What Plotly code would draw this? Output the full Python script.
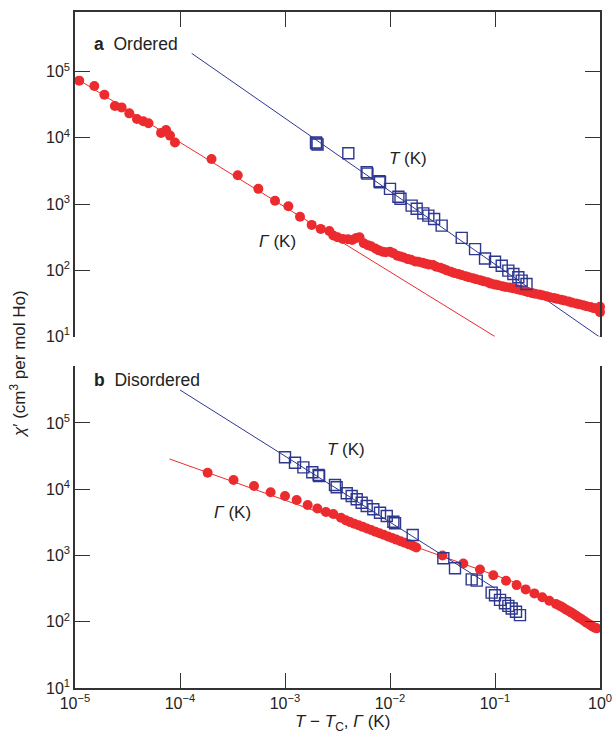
import numpy as np
import plotly.graph_objects as go

# ---------------- data (log10 values) ----------------
# Panel a: Ordered
a_gamma_logx = [-4.96, -4.816, -4.72, -4.62, -4.556, -4.483, -4.41, -4.35, -4.30, -4.18, -4.133, -4.095, -4.048,
                -3.70, -3.45, -3.254, -3.095, -2.968, -2.857, -2.746, -2.66, -2.578, -2.54,
                -2.50, -2.45, -2.40, -2.36, -2.32, -2.29, -2.25, -2.21, -2.18, -2.14, -2.11, -2.07, -2.04, -2.00,
                -1.97, -1.93, -1.90, -1.87, -1.83, -1.80, -1.76, -1.73, -1.69, -1.66, -1.63, -1.59, -1.56, -1.52,
                -1.49, -1.46, -1.42, -1.39, -1.35, -1.32, -1.28, -1.25, -1.21, -1.18, -1.14, -1.11, -1.07, -1.04,
                -1.00, -0.97, -0.93, -0.90, -0.86, -0.83, -0.79, -0.76, -0.72, -0.69, -0.65, -0.62, -0.58, -0.55,
                -0.51, -0.48, -0.44, -0.41, -0.37, -0.34, -0.30, -0.27, -0.23, -0.20, -0.16, -0.13, -0.09, -0.06,
                -0.03, -0.01, 0.0, 0.0]
a_gamma_logy = [4.864, 4.784, 4.65, 4.48, 4.46, 4.37, 4.286, 4.25, 4.22, 4.075, 4.12, 4.034, 3.93,
                3.68, 3.435, 3.23, 3.05, 2.967, 2.81, 2.686, 2.626, 2.595, 2.525,
                2.50, 2.475, 2.47, 2.46, 2.49, 2.50, 2.41, 2.38, 2.365, 2.33, 2.305, 2.28, 2.275, 2.28,
                2.26, 2.22, 2.21, 2.195, 2.17, 2.16, 2.135, 2.13, 2.115, 2.10, 2.09, 2.08, 2.055, 2.04,
                2.02, 2.0, 1.98, 1.96, 1.945, 1.93, 1.91, 1.895, 1.88, 1.865, 1.85, 1.835, 1.82, 1.80,
                1.785, 1.775, 1.76, 1.75, 1.74, 1.73, 1.715, 1.705, 1.69, 1.675, 1.66, 1.648, 1.635, 1.625,
                1.61, 1.595, 1.583, 1.57, 1.555, 1.545, 1.53, 1.515, 1.50, 1.49, 1.475, 1.46, 1.445, 1.43,
                1.42, 1.41, 1.45, 1.37]
a_t_logx = [-2.705, -2.69, -2.70, -2.397, -2.222, -2.215, -2.10, -2.095, -2.0, -1.92, -1.90, -1.794, -1.746,
            -1.683, -1.635, -1.58, -1.508, -1.317, -1.19, -1.095, -1.0, -0.936, -0.873, -0.825, -0.778, -0.746, -0.70]
a_t_logy = [3.93, 3.90, 3.915, 3.767, 3.48, 3.46, 3.344, 3.33, 3.23, 3.11, 3.08, 2.977, 2.93,
            2.86, 2.826, 2.776, 2.675, 2.49, 2.32, 2.18, 2.13, 2.07, 1.996, 1.946, 1.895, 1.845, 1.795]
a_gamma_fit_logx = [-5.0, -1.0]
a_gamma_fit_logy = [4.91, 1.0]
a_t_fit_logx = [-3.889, 0.0]
a_t_fit_logy = [5.276, 0.99]

# Panel b: Disordered
b_gamma_logx = [-3.737, -3.49, -3.295, -3.137, -3.0, -2.889, -2.784, -2.692, -2.61, -2.54, -2.467,
                -2.42, -2.38, -2.34, -2.30, -2.26, -2.22, -2.18, -2.14, -2.10, -2.06, -2.02, -1.98, -1.94,
                -1.90, -1.86, -1.82, -1.78, -1.75, -1.50, -1.302, -1.143, -1.016, -0.895, -0.794, -0.708,
                -0.625, -0.55, -0.483, -0.419, -0.39, -0.365, -0.34, -0.317, -0.29, -0.27, -0.245, -0.222,
                -0.20, -0.174, -0.15, -0.127, -0.10, -0.079, -0.055, -0.032]
b_gamma_logy = [4.25, 4.14, 4.05, 3.954, 3.898, 3.838, 3.762, 3.71, 3.657, 3.626, 3.57,
                3.53, 3.504, 3.48, 3.456, 3.432, 3.408, 3.384, 3.36, 3.336, 3.312, 3.288, 3.264, 3.24,
                3.216, 3.192, 3.168, 3.144, 3.12, 3.0, 2.88, 2.788, 2.703, 2.62, 2.553, 2.488,
                2.428, 2.37, 2.316, 2.267, 2.245, 2.227, 2.20, 2.177, 2.155, 2.137, 2.11, 2.087,
                2.062, 2.037, 2.01, 1.986, 1.96, 1.936, 1.915, 1.90]
b_t_logx = [-3.0, -2.905, -2.825, -2.74, -2.68, -2.675, -2.524, -2.508, -2.412, -2.365, -2.317, -2.27,
            -2.222, -2.159, -2.095, -2.031, -1.968, -1.952, -1.784, -1.492, -1.381, -1.222, -1.174,
            -1.032, -1.0, -0.952, -0.905, -0.873, -0.841, -0.80, -0.762]
b_t_logy = [4.482, 4.40, 4.33, 4.256, 4.215, 4.20, 4.064, 4.03, 3.939, 3.898, 3.848, 3.797,
            3.747, 3.697, 3.646, 3.596, 3.51, 3.486, 3.31, 2.958, 2.807, 2.64, 2.62,
            2.44, 2.40, 2.33, 2.28, 2.24, 2.20, 2.15, 2.10]
b_gamma_fit_logx = [-4.10, -0.8]
b_gamma_fit_logy = [4.457, 2.59]
b_t_fit_logx = [-4.0, -1.0]
b_t_fit_logy = [5.498, 2.505]

x_tick_exp = [-5, -4, -3, -2, -1, 0]
y_tick_exp = [1, 2, 3, 4, 5]

# ---------------- styling ----------------
RED = "#ec2b2e"
BLUE = "#2e3790"
AXC = "#333333"
FONT = "Liberation Sans, Arial, Helvetica, sans-serif"

def p10(v):
    return list(10.0 ** np.array(v, dtype=float))

fig = go.Figure()

def add_panel(xa, ya, gx, gy, tx, ty, gfx, gfy, tfx, tfy):
    fig.add_trace(go.Scatter(x=p10(gfx), y=p10(gfy), mode="lines", line=dict(color=RED, width=1),
                             xaxis=xa, yaxis=ya, showlegend=False, hoverinfo="skip"))
    fig.add_trace(go.Scatter(x=p10(tfx), y=p10(tfy), mode="lines", line=dict(color=BLUE, width=1),
                             xaxis=xa, yaxis=ya, showlegend=False, hoverinfo="skip", cliponaxis=False))
    fig.add_trace(go.Scatter(x=p10(gx), y=p10(gy), mode="markers",
                             marker=dict(color=RED, size=10, line=dict(width=0)),
                             xaxis=xa, yaxis=ya, showlegend=False, cliponaxis=False))
    fig.add_trace(go.Scatter(x=p10(tx), y=p10(ty), mode="markers",
                             marker=dict(symbol="square-open", color=BLUE, size=11, line=dict(width=1.4)),
                             xaxis=xa, yaxis=ya, showlegend=False, cliponaxis=False))

add_panel("x2", "y2", a_gamma_logx, a_gamma_logy, a_t_logx, a_t_logy,
          a_gamma_fit_logx, a_gamma_fit_logy, a_t_fit_logx, a_t_fit_logy)
add_panel("x", "y", b_gamma_logx, b_gamma_logy, b_t_logx, b_t_logy,
          b_gamma_fit_logx, b_gamma_fit_logy, b_t_fit_logx, b_t_fit_logy)

xt_vals = [10.0 ** e for e in x_tick_exp]
xt_text = ["10<sup>%s</sup>" % (str(e).replace("-", "\u2212")) for e in x_tick_exp]
yt_vals = [10.0 ** e for e in y_tick_exp]
yt_text = ["10<sup>%d</sup>" % e for e in y_tick_exp]

TICKFONT = dict(family=FONT, size=16, color="#222")
common_x = dict(type="log", range=[-5, 0], showgrid=False, zeroline=False, showline=True,
                linecolor=AXC, linewidth=1.5, ticks="inside", ticklen=15, tickwidth=1.2, tickcolor=AXC,
                tickvals=xt_vals, ticktext=xt_text, mirror=False, automargin=False, tickfont=TICKFONT)
common_y = dict(type="log", showgrid=False, zeroline=False, showline=True, linecolor=AXC, linewidth=1.5,
                ticks="inside", ticklen=15, tickwidth=1.2, tickcolor=AXC, mirror="ticks",
                tickvals=yt_vals, ticktext=yt_text, tickfont=TICKFONT, automargin=False)

H = 733 - 12 - 45
fig.update_layout(
    width=614, height=733,
    margin=dict(l=75, r=14, t=12, b=45, autoexpand=False),
    paper_bgcolor="white", plot_bgcolor="white",
    font=dict(family=FONT, size=16, color="#222"),
    xaxis=dict(common_x, anchor="y", side="bottom"),
    yaxis=dict(common_y, domain=[0, 322 / H], range=[1, 5.86], anchor="x"),
    xaxis2=dict(common_x, anchor="y2", side="top", showticklabels=False),
    yaxis2=dict(common_y, domain=[(H - 324.6) / H, 1], range=[1, 5.9], anchor="x2"),
)

def ann(text, px, py, size=17.5, xanchor="left"):
    fig.add_annotation(text=text, xref="paper", yref="paper",
                       x=(px - 75) / 525, y=(688 - py) / H, xanchor=xanchor, yanchor="middle",
                       showarrow=False, font=dict(family=FONT, size=size, color="#222"))

ann("<b>a</b>  Ordered", 92, 44)
ann("<b>b</b>  Disordered", 92, 380)
ann("<i>T</i> (K)", 387, 158, size=17)
ann("<i>Γ</i> (K)", 257, 242, size=17)
ann("<i>T</i> (K)", 325, 449, size=17)
ann("<i>Γ</i> (K)", 212, 512, size=17)
ann("<i>T</i> \u2212 <i>T</i><sub>C</sub>, <i>Γ</i> (K)", 342, 723, size=17, xanchor="center")

fig.add_annotation(text="<i>χ</i>\u2032 (cm<sup>3</sup> per mol Ho)", xref="paper", yref="paper",
                   x=(18 - 75) / 525, y=(688 - 364) / H, xanchor="center", yanchor="middle",
                   textangle=-90, showarrow=False, font=dict(family=FONT, size=17, color="#222"))

fig.write_html("out.html", config={"displayModeBar": False},
               post_script="document.body.style.margin='0';document.body.style.padding='0';"
                           "document.body.style.overflow='hidden';")
